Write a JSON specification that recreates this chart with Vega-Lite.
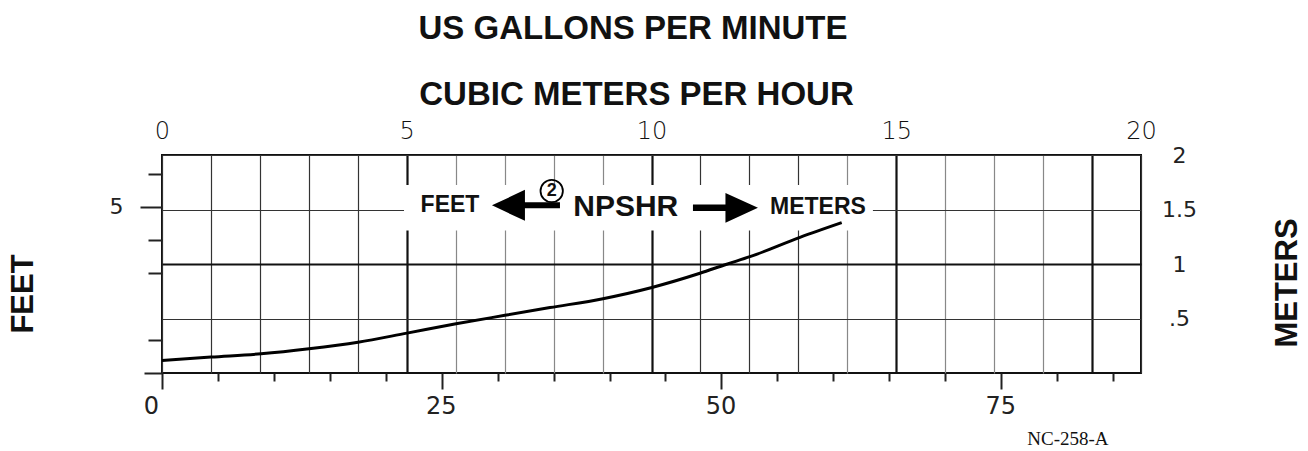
{
  "$schema": "https://vega.github.io/schema/vega-lite/v6.json",
  "width": 979,
  "height": 218,
  "autosize": {"type": "none"},
  "padding": {"left": 162, "top": 155, "right": 167, "bottom": 78},
  "background": "white",
  "config": {"view": {"stroke": "#111", "strokeWidth": 2}, "font": "Liberation Sans"},
  "datasets": {
    "curve": [
      {"gpm": 0, "m": 0.114},
      {"gpm": 4.38, "m": 0.146},
      {"gpm": 8.85, "m": 0.176},
      {"gpm": 13.14, "m": 0.222},
      {"gpm": 17.52, "m": 0.282},
      {"gpm": 21.9, "m": 0.366},
      {"gpm": 26.28, "m": 0.451},
      {"gpm": 30.65, "m": 0.529},
      {"gpm": 34.68, "m": 0.6},
      {"gpm": 39.41, "m": 0.682},
      {"gpm": 43.79, "m": 0.785},
      {"gpm": 48.08, "m": 0.915},
      {"gpm": 50.47, "m": 0.998},
      {"gpm": 52.55, "m": 1.067},
      {"gpm": 57.02, "m": 1.245},
      {"gpm": 60.75, "m": 1.38}
    ],
    "notes": [
      {"gpm": 25.74, "m": 1.542, "text": "FEET", "kind": "small"},
      {"gpm": 58.63, "m": 1.522, "text": "METERS", "kind": "small"},
      {"gpm": 41.45, "m": 1.519, "text": "NPSHR", "kind": "big"},
      {"gpm": 34.83, "m": 1.67, "text": "2", "kind": "circled"},
      {"gpm": 80.97, "m": -0.609, "text": "NC-258-A", "kind": "code"}
    ],
    "arrows": [
      {"gpm": 32.53, "m": 1.538, "dir": "left"},
      {"gpm": 50.36, "m": 1.515, "dir": "right"}
    ],
    "box": [{"gpm": 21.63, "gpm2": 63.54, "m": 1.307, "m2": 1.725}],
    "frame": [{"q": 0, "ft": 0}, {"q": 20, "ft": 6.5617}]
  },
  "layer": [
    {
      "data": {"name": "frame"},
      "mark": {"type": "point", "opacity": 0},
      "encoding": {
        "x": {
          "field": "q", "type": "quantitative",
          "scale": {"domain": [0, 20], "nice": false, "zero": false},
          "axis": {
            "orient": "top",
            "values": [0,1,2,3,4,5,6,7,8,9,10,11,12,13,14,15,16,17,18,19,20],
            "labelExpr": "datum.value % 5 === 0 ? datum.label : ''",
            "labelFlush": false,
            "ticks": false, "tickSize": 0, "domain": false,
            "grid": true,
            "gridColor": {"condition": [
              {"test": "indexof([5,10,15,19], datum.value) >= 0", "value": "#111"},
              {"test": "indexof([6,7,8,9,14,16,17,18], datum.value) >= 0", "value": "#888"}
            ], "value": "#333"},
            "gridWidth": {"condition": {"test": "indexof([5,10,15,19], datum.value) >= 0", "value": 2.2}, "value": 1.2},
            "gridOpacity": 1,
            "labelFont": "DejaVu Sans", "labelFontWeight": 200, "labelFontSize": 24, "labelColor": "#111",
            "labelPadding": 12,
            "title": "CUBIC METERS PER HOUR",
            "titleFont": "Liberation Sans", "titleFontSize": 33, "titleFontWeight": "bold", "titleColor": "#111",
            "titleX": 474, "titleY": -60.5, "titleAlign": "center", "titleBaseline": "middle", "titleAngle": 0
          }
        },
        "y": {
          "field": "ft", "type": "quantitative",
          "scale": {"domain": [0, 6.5617], "nice": false, "zero": false},
          "axis": {
            "orient": "left",
            "values": [0, 1, 3, 4, 5, 6],
            "labelExpr": "datum.value === 5 ? '5' : ''",
            "tickSize": {"condition": [
              {"test": "datum.value === 5", "value": 22},
              {"test": "datum.value === 0", "value": 18}
            ], "value": 14},
            "tickWidth": 2, "tickColor": "#222",
            "domain": false, "grid": false,
            "labelFont": "DejaVu Sans", "labelFontSize": 22, "labelColor": "#222",
            "labelPadding": 17, "labelBaseline": "middle",
            "title": "FEET",
            "titleFont": "Liberation Sans", "titleFontSize": 31, "titleFontWeight": "bold", "titleColor": "#111",
            "titleX": -139, "titleY": 138.5, "titleAlign": "center", "titleBaseline": "middle", "titleAngle": 270
          }
        }
      }
    },
    {
      "encoding": {
        "x": {
          "field": "gpm", "type": "quantitative",
          "scale": {"domain": [0, 87.5], "nice": false, "zero": false},
          "axis": {
            "orient": "bottom",
            "values": [0,5,10,15,20,25,30,35,40,45,50,55,60,65,70,75,80,85],
            "labelExpr": "datum.value % 25 === 0 ? datum.label : ''",
            "labelFlush": false,
            "tickSize": {"condition": {"test": "datum.value % 25 === 0", "value": 16}, "value": 8},
            "tickWidth": 2, "tickColor": "#222",
            "labelOffset": {"condition": {"test": "datum.value === 0", "value": -11}, "value": -1},
            "labelPadding": 5,
            "labelFont": "DejaVu Sans", "labelFontSize": 24, "labelColor": "#222",
            "grid": false, "domain": false,
            "title": "US GALLONS PER MINUTE",
            "titleFont": "Liberation Sans", "titleFontSize": 33, "titleFontWeight": "bold", "titleColor": "#111",
            "titleX": 470.5, "titleY": -345, "titleAlign": "center", "titleBaseline": "middle", "titleAngle": 0
          }
        },
        "y": {
          "field": "m", "type": "quantitative",
          "scale": {"domain": [0, 2], "nice": false, "zero": false},
          "axis": {
            "orient": "right",
            "values": [0.5, 1, 1.5, 2],
            "labelExpr": "datum.value === 0.5 ? '.5' : datum.value === 1.5 ? '1.5' : datum.value === 1 ? '1' : '2'",
            "ticks": false, "tickSize": 0, "domain": false,
            "grid": true,
            "gridColor": {"condition": {"test": "datum.value === 1", "value": "#111"}, "value": "#333"},
            "gridWidth": {"condition": {"test": "datum.value === 1", "value": 2.2}, "value": 1.2},
            "gridOpacity": 1,
            "labelAlign": "center", "labelBaseline": "middle", "labelPadding": 38,
            "labelFont": "DejaVu Sans", "labelFontSize": 22, "labelColor": "#222",
            "title": "METERS",
            "titleFont": "Liberation Sans", "titleFontSize": 31, "titleFontWeight": "bold", "titleColor": "#111",
            "titleX": 146, "titleY": 127.5, "titleAlign": "center", "titleBaseline": "middle", "titleAngle": 270
          }
        }
      },
      "layer": [
        {
          "data": {"name": "box"},
          "mark": {"type": "rect", "fill": "white", "strokeWidth": 0, "opacity": 1},
          "encoding": {"x2": {"field": "gpm2"}, "y2": {"field": "m2"}}
        },
        {
          "data": {"name": "curve"},
          "mark": {"type": "line", "color": "black", "strokeWidth": 3, "interpolate": "monotone"},
          "encoding": {}
        },
        {
          "data": {"name": "arrows"},
          "transform": [{"filter": "datum.dir === 'left'"}],
          "mark": {"type": "point", "shape": "M-1,0L-0.03,-0.456L-0.03,-0.088L1,-0.088L1,0.088L-0.03,0.088L-0.03,0.456Z", "size": 4624, "filled": true, "color": "black", "opacity": 1, "strokeWidth": 0}
        },
        {
          "data": {"name": "arrows"},
          "transform": [{"filter": "datum.dir === 'right'"}],
          "mark": {"type": "point", "shape": "M1,0L0,-0.46L0,-0.1L-1,-0.1L-1,0.1L0,0.1L0,0.46Z", "size": 4225, "filled": true, "color": "black", "opacity": 1, "strokeWidth": 0}
        },
        {
          "data": {"name": "notes"},
          "transform": [{"filter": "datum.kind === 'circled'"}],
          "mark": {"type": "point", "shape": "circle", "size": 500, "filled": false, "color": "black", "strokeWidth": 1.8, "opacity": 1}
        },
        {
          "data": {"name": "notes"},
          "transform": [{"filter": "datum.kind === 'circled'"}],
          "mark": {"type": "text", "font": "Liberation Sans", "fontWeight": "bold", "fontSize": 18, "align": "center", "baseline": "middle", "color": "#111"},
          "encoding": {"text": {"field": "text"}}
        },
        {
          "data": {"name": "notes"},
          "transform": [{"filter": "datum.kind === 'small'"}],
          "mark": {"type": "text", "font": "Liberation Sans", "fontWeight": "bold", "fontSize": 23, "align": "center", "baseline": "middle", "color": "#111"},
          "encoding": {"text": {"field": "text"}}
        },
        {
          "data": {"name": "notes"},
          "transform": [{"filter": "datum.kind === 'big'"}],
          "mark": {"type": "text", "font": "Liberation Sans", "fontWeight": "bold", "fontSize": 30, "align": "center", "baseline": "middle", "color": "#111"},
          "encoding": {"text": {"field": "text"}}
        },
        {
          "data": {"name": "notes"},
          "transform": [{"filter": "datum.kind === 'code'"}],
          "mark": {"type": "text", "font": "Liberation Serif", "fontSize": 19, "align": "center", "baseline": "middle", "color": "#111"},
          "encoding": {"text": {"field": "text"}}
        }
      ]
    }
  ],
  "resolve": {
    "scale": {"x": "independent", "y": "independent"},
    "axis": {"x": "independent", "y": "independent"}
  }
}
